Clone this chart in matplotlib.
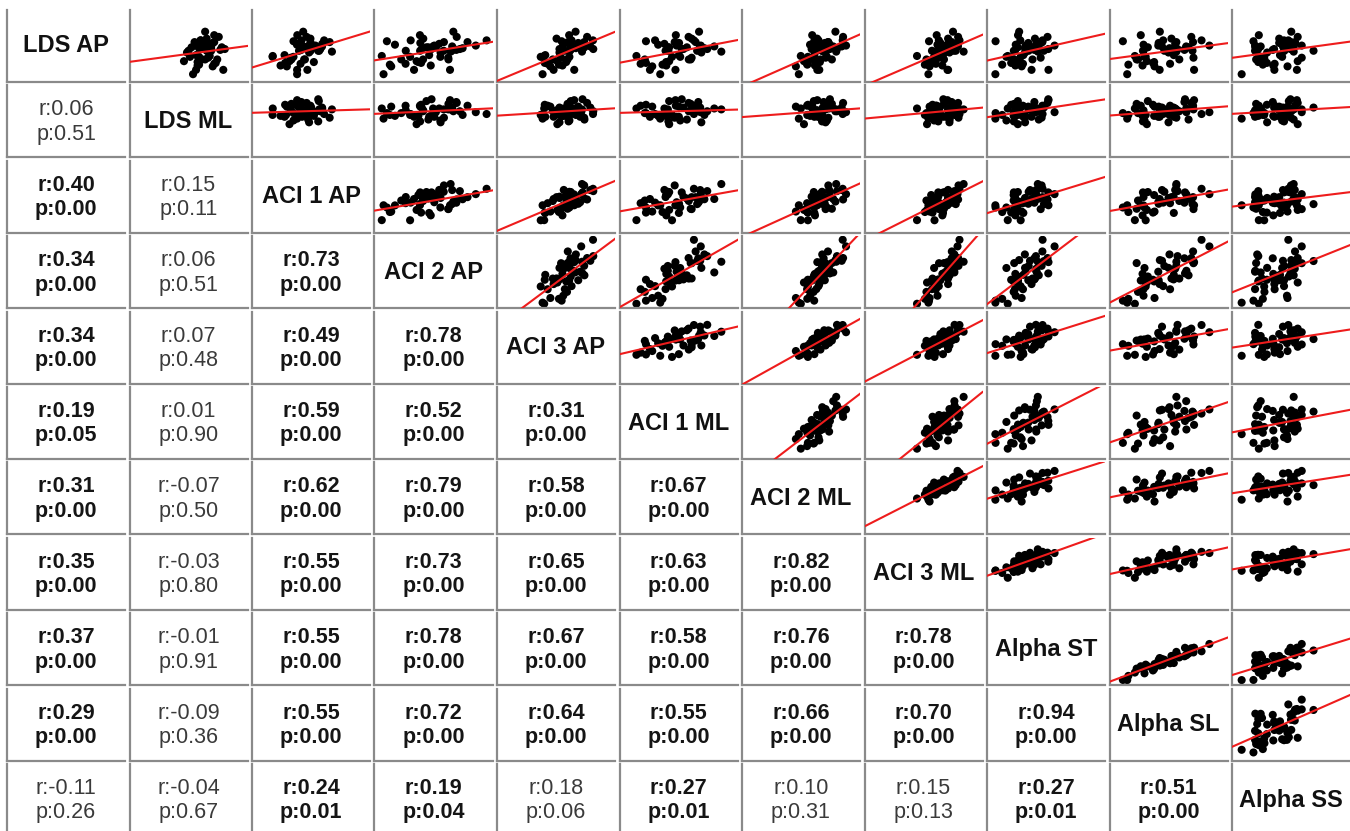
import matplotlib
matplotlib.use("Agg")
import matplotlib.pyplot as plt
import numpy as np

plt.rcParams['font.family'] = ['Liberation Sans', 'DejaVu Sans']

# ---------- data (one value per subject) ----------
names = ["LDS AP", "LDS ML", "ACI 1 AP", "ACI 2 AP", "ACI 3 AP", "ACI 1 ML",
         "ACI 2 ML", "ACI 3 ML", "Alpha ST", "Alpha SL", "Alpha SS"]

lds_ap = [52, 31, 51, 69, 43, 46, 58, 53, 65, 48, 41, 70, 60, 51, 36, 64, 50, 62, 56, 67,
          62, 48, 62, 66, 61, 60, 80, 68, 68, 60, 74, 57, 70, 40, 58, 59, 48, 58, 63, 44,
          72, 45, 36, 42, 63, 58, 76, 64]
lds_ml = [64.5, 59, 61, 62, 66, 56, 63.5, 60, 60.5, 63, 60.5, 61.5, 65, 58, 60, 60, 64, 68.5, 57, 65.5,
          62.5, 67, 58.5, 64.5, 61, 69.5, 63, 59.5, 66, 63, 67.5, 64, 61.5, 65.5, 57.5, 68, 62, 65, 65, 66.5,
          63.5, 60.5, 69, 61, 64.5, 64, 66, 62.5]
aci1_ap = [28.9, 41.7, 28.8, 39.8, 43.5, 37.7, 48.8, 35.1, 41.6, 45.4, 33.0, 44.0, 49.1, 39.8, 47.1, 44.3, 38.4, 53.1, 48.0, 43.0,
           51.1, 38.7, 47.5, 54.9, 46.9, 52.8, 44.9, 58.8, 48.7, 53.9, 46.7, 60.0, 55.9, 36.3, 52.8, 43.9, 45.8, 42.7, 54.8, 35.4,
           48.7, 50.5, 41.7, 35.9, 47.1, 53.3, 41.8, 51.3]
aci2_ap = [25.7, 26.6, 40.1, 28.3, 37.8, 43.4, 37.9, 49.8, 32.4, 46.7, 50.6, 40.4, 46.0, 55.5, 42.1, 52.4, 59.5, 48.4, 55.6, 45.3,
           53.2, 59.6, 49.4, 54.9, 66.8, 51.0, 62.1, 57.3, 69.3, 65.4, 63.8, 60.7, 79.0, 30.5, 45.2, 63.6, 35.6, 61.3, 61.5, 45.7,
           46.8, 44.3, 60.4, 29.8, 51.8, 57.2, 45.1, 73.5]
aci3_ap = [51.6, 51.0, 50.3, 58.1, 52.9, 56.5, 59.3, 52.0, 58.7, 54.8, 58.4, 61.8, 57.3, 61.0, 55.1, 65.0, 57.9, 61.5, 57.3, 64.3,
           62.7, 60.3, 66.6, 58.9, 63.4, 65.9, 63.3, 66.5, 60.4, 69.9, 67.6, 65.7, 69.8, 53.9, 60.7, 61.4, 60.1, 61.2, 68.8, 51.8,
           56.2, 59.8, 62.8, 57.1, 63.1, 61.0, 60.9, 65.4]
aci1_ml = [36.9, 49.4, 55.6, 41.9, 39.1, 54.1, 52.2, 59.2, 48.3, 64.4, 52.6, 46.7, 61.6, 59.9, 44.0, 58.0, 65.9, 54.1, 71.0, 59.3,
           53.4, 65.4, 63.4, 51.6, 72.6, 60.7, 69.8, 57.0, 68.0, 74.1, 64.3, 81.5, 67.1, 45.2, 53.7, 69.4, 41.3, 68.8, 70.4, 41.9,
           65.9, 52.5, 57.4, 50.6, 77.8, 53.4, 57.6, 70.7]
aci2_ml = [51.9, 50.9, 55.5, 58.7, 55.1, 53.5, 59.8, 58.8, 56.6, 61.9, 59.1, 60.9, 57.4, 65.2, 61.3, 60.6, 64.5, 58.5, 64.5, 64.1,
           61.3, 67.7, 63.8, 66.3, 62.8, 66.7, 69.5, 65.9, 65.7, 70.3, 73.4, 69.9, 73.2, 49.4, 62.7, 63.5, 58.4, 63.1, 72.7, 55.5,
           60.2, 61.6, 60.3, 55.2, 68.4, 62.7, 57.7, 74.9]
aci3_ml = [48.7, 54.5, 57.6, 54.8, 58.3, 53.8, 56.3, 61.9, 59.1, 56.6, 61.6, 59.8, 59.5, 57.4, 64.5, 63.4, 59.9, 63.1, 65.2, 60.6,
           67.6, 62.4, 65.3, 64.5, 67.7, 62.1, 67.0, 69.8, 66.4, 67.8, 69.6, 72.4, 70.3, 55.1, 59.5, 66.3, 53.5, 68.4, 69.5, 56.6,
           64.5, 55.9, 64.2, 52.7, 67.7, 67.3, 58.7, 69.3]
alpha_st = [22.9, 16.4, 29.7, 16.5, 30.9, 28.2, 26.7, 31.1, 27.1, 35.9, 26.9, 29.5, 36.9, 22.2, 35.4, 32.3, 40.2, 28.2, 32.0, 33.7,
            37.8, 26.3, 39.2, 37.9, 31.9, 44.2, 28.9, 40.7, 41.1, 37.7, 43.8, 38.7, 41.2, 30.2, 26.1, 36.9, 26.0, 41.9, 34.6, 24.7,
            37.2, 26.0, 44.3, 20.0, 38.2, 33.9, 28.3, 47.5]
alpha_sl = [30.9, 27.0, 36.4, 24.8, 48.8, 37.0, 35.3, 50.7, 35.3, 53.5, 34.8, 45.3, 50.6, 35.8, 43.5, 42.8, 60.7, 37.5, 48.0, 43.0,
            57.1, 31.8, 58.2, 51.4, 48.5, 56.4, 43.6, 52.0, 60.5, 52.6, 59.6, 52.0, 64.8, 40.9, 35.0, 56.1, 32.5, 60.2, 44.7, 40.1,
            49.5, 40.7, 61.0, 27.6, 57.0, 45.9, 33.9, 68.8]
alpha_ss = [24.0, 17.6, 26.0, 22.0, 29.9, 38.5, 22.6, 31.9, 34.5, 25.2, 29.4, 33.4, 29.7, 32.7, 29.8, 22.6, 40.0, 35.2, 27.1, 31.6,
            22.7, 23.0, 37.0, 37.4, 23.4, 35.8, 36.1, 36.0, 37.5, 23.8, 38.5, 37.0, 35.0, 34.7, 33.4, 29.2, 26.1, 44.4, 33.0, 27.0,
            31.6, 23.8, 38.2, 25.5, 24.7, 33.5, 24.0, 40.0]

columns = [lds_ap, lds_ml, aci1_ap, aci2_ap, aci3_ap, aci1_ml,
           aci2_ml, aci3_ml, alpha_st, alpha_sl, alpha_ss]

# reported correlations (lower triangle, row by row)
r_vals = [
    [0.06],
    [0.40, 0.15],
    [0.34, 0.06, 0.73],
    [0.34, 0.07, 0.49, 0.78],
    [0.19, 0.01, 0.59, 0.52, 0.31],
    [0.31, -0.07, 0.62, 0.79, 0.58, 0.67],
    [0.35, -0.03, 0.55, 0.73, 0.65, 0.63, 0.82],
    [0.37, -0.01, 0.55, 0.78, 0.67, 0.58, 0.76, 0.78],
    [0.29, -0.09, 0.55, 0.72, 0.64, 0.55, 0.66, 0.70, 0.94],
    [-0.11, -0.04, 0.24, 0.19, 0.18, 0.27, 0.10, 0.15, 0.27, 0.51],
]
p_vals = [
    [0.51],
    [0.00, 0.11],
    [0.00, 0.51, 0.00],
    [0.00, 0.48, 0.00, 0.00],
    [0.05, 0.90, 0.00, 0.00, 0.00],
    [0.00, 0.50, 0.00, 0.00, 0.00, 0.00],
    [0.00, 0.80, 0.00, 0.00, 0.00, 0.00, 0.00],
    [0.00, 0.91, 0.00, 0.00, 0.00, 0.00, 0.00, 0.00],
    [0.00, 0.36, 0.00, 0.00, 0.00, 0.00, 0.00, 0.00, 0.00],
    [0.26, 0.67, 0.01, 0.04, 0.06, 0.01, 0.31, 0.13, 0.01, 0.00],
]

# axis range used for each variable
lims = [(22, 105), (38, 77), (18, 80), (22, 82), (34, 78), (28, 90),
        (22, 82), (22, 82), (12, 74), (18, 78), (14, 58)]

# ---------- figure ----------
W, H = 1350, 831
fig = plt.figure(figsize=(W / 100, H / 100), dpi=100)
fig.patch.set_facecolor('white')

n = len(names)
x0, dx, cw = 7, 122.5, 118
y0, dy, ch = 10, 75.4, 72
spine_col = '#8a8a8a'

for i in range(n):
    for j in range(n):
        left = (x0 + j * dx) / W
        bottom = 1 - (y0 + i * dy + ch) / H
        ax = fig.add_axes([left, bottom, cw / W, ch / H])
        ax.set_xticks([])
        ax.set_yticks([])
        for s in ['top', 'right']:
            ax.spines[s].set_visible(False)
        for s in ['left', 'bottom']:
            ax.spines[s].set_color(spine_col)
            ax.spines[s].set_linewidth(1.6)

        if i == j:
            ax.text(0.5, 0.5, names[i], ha='center', va='center',
                    fontsize=17, fontweight='bold', color='#111111',
                    transform=ax.transAxes)
        elif i > j:
            r = r_vals[i - 1][j]
            p = p_vals[i - 1][j]
            sig = p <= 0.05
            kw = dict(ha='center', va='center', fontsize=15.5,
                      fontweight='bold' if sig else 'normal',
                      color='#151515' if sig else '#3a3a3a',
                      transform=ax.transAxes)
            ax.text(0.5, 0.66, f"r:{r:.2f}", **kw)
            ax.text(0.5, 0.32, f"p:{p:.2f}", **kw)
        else:
            xs = np.array(columns[j], dtype=float)
            ys = np.array(columns[i], dtype=float)
            ax.scatter(xs, ys, s=34, color='black', edgecolors='none', zorder=2)
            slope, icpt = np.polyfit(xs, ys, 1)
            xl = np.array(lims[j])
            ax.plot(xl, icpt + slope * xl, color='#ee1c1c', lw=1.5, zorder=3)
            ax.set_xlim(*lims[j])
            ax.set_ylim(*lims[i])

fig.savefig('out.png', dpi=100)
